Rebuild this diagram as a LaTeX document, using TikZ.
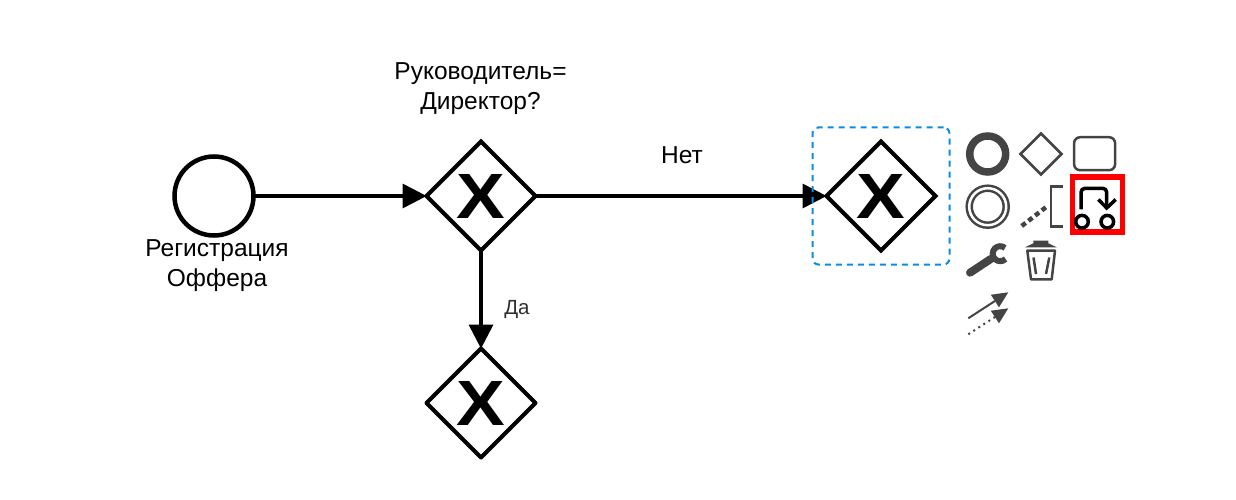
\documentclass[tikz,border=0pt]{standalone}
\usepackage{fontspec}
\setmainfont{Liberation Sans}
\usetikzlibrary{shapes.geometric,arrows.meta}
\definecolor{icongray}{HTML}{444444}
\definecolor{selblue}{HTML}{0A8CE6}
\newcommand{\gwmark}{\scalebox{1.14}[1]{X}}
\tikzset{
  startev/.style = {shape=circle, draw, line width=4.5pt, minimum size=79pt, inner sep=0pt, outer sep=0pt},
  gateway/.style = {shape=diamond, draw, line width=4pt, minimum width=109pt, minimum height=109pt,
                    inner sep=0pt, outer sep=0pt, font=\fontsize{64}{64}\selectfont\bfseries},
  flow/.style    = {line width=4.5pt, -{Triangle[length=24pt,width=25pt,line width=0pt]}},
  lbl/.style     = {align=center, font=\fontsize{24.5}{30}\selectfont},
  icon/.style    = {draw=icongray, line width=2.5pt, inner sep=0pt, outer sep=0pt}
}
\begin{document}
\begin{tikzpicture}[x=1pt,y=-1pt]
  \useasboundingbox (0,0) rectangle (1236,500);

  % process
  \node [startev] (start) at (214,196) {};
  \node [gateway] (gwdir) at (481,196) {\gwmark};
  \node [gateway] (gwno)  at (881,196) {\gwmark};
  \node [gateway, line join=round] (gwyes) at (481,403) {\gwmark};
  \draw [flow] (start) -- (gwdir);
  \draw [flow] (gwdir) -- (gwno);
  \draw [flow] (gwdir) -- (gwyes);

  \node [lbl] (lstart) at (217,265.5) {Регистрация\\Оффера};
  \node [lbl] (ldir)   at (480.5,89)  {Руководитель=\\Директор?};
  \node [lbl] (lno)    at (682,155) {Нет};
  \node [lbl, font=\fontsize{20.5}{24}\selectfont, text=icongray!70!black] (lyes) at (517,309) {Да};

  % selection
  \node [draw=selblue, line width=2pt, dash pattern=on 6pt off 5pt, rounded corners=6pt, minimum size=137pt,
         inner sep=0pt] (selbox) at (881,196) {};

  % palette
  \node [icon, circle, line width=7.5pt, minimum size=36pt] (icend) at (987.7,154) {};
  \node [icon, diamond, minimum width=41pt, minimum height=41pt] (icgw) at (1041,154) {};
  \node [icon, rectangle, rounded corners=6pt, minimum width=41pt, minimum height=33pt] (ictask) at (1094.6,153.7) {};
  \node [icon, circle, double=white, double distance=2.5pt, line width=2.5pt, minimum size=37pt] (icinter) at (987.7,206.7) {};

  \draw [icongray, line width=4.5pt, dash pattern=on 5pt off 3.5pt] (1021.7,226) -- (1047.5,206);
  \draw [icongray, line width=2.5pt] (1062.7,186.5) -- (1051.2,186.5) -- (1051.2,226.5) -- (1062.7,226.5);

  \node [draw=red, line width=5.5pt, minimum width=50pt, minimum height=55pt, inner sep=0pt] (icsel) at (1097.5,204.5) {};
  \draw [line width=3.5pt, rounded corners=4pt] (1081,209.3) -- (1081,188.3) -- (1106.7,188.3) -- (1106.7,207);
  \draw [line width=3.5pt] (1098.3,199.5) -- (1106.7,208) -- (1115.7,199.5);
  \draw [line width=3.5pt] (1082,221.7) circle (6.3);
  \draw [line width=3.5pt] (1107.3,221.7) circle (6.3);

  % wrench
  \draw [icongray, line width=8pt, line cap=round] (970,272.7) -- (991,258.8);
  \draw [icongray, line width=6pt] (1005.5,259) arc (45:310:7.5);

  % trash
  \fill [icongray] (1025,247.3) -- (1033.3,243.3) -- (1033.3,240.7) -- (1048.3,240.7) -- (1048.3,243.3) -- (1056.7,247.3) -- cycle;
  \draw [icongray, line width=2.5pt, line join=round] (1027.3,250.7) -- (1055,250.7) -- (1051.7,279.3) -- (1031,279.3) -- cycle;
  \draw [icongray, line width=2.5pt] (1033.5,257.5) -- (1036,274);
  \draw [icongray, line width=2.5pt] (1049.3,257.5) -- (1046,274);

  % connect
  \coordinate (csolidA) at (968.3,318.3);
  \coordinate (csolidB) at (1008.3,292.3);
  \coordinate (cdotA)   at (968.3,334.3);
  \coordinate (cdotB)   at (1008.3,308.3);
  \draw [icongray, line width=2pt, -{Triangle[length=16pt,width=15pt,line width=0pt]}] (csolidA) -- (csolidB);
  \draw [icongray, line width=2pt, dash pattern=on 2pt off 4pt, -{Triangle[length=16pt,width=15pt,line width=0pt]}] (cdotA) -- (cdotB);
\end{tikzpicture}
\end{document}
